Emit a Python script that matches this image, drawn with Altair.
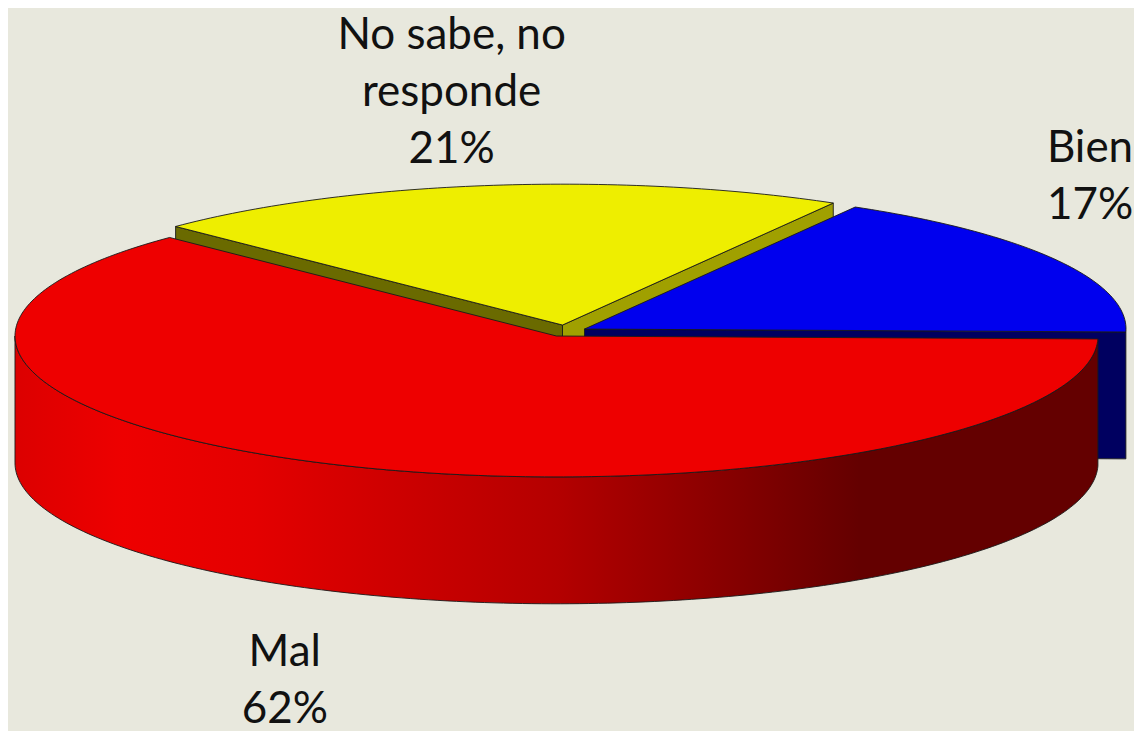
import math
import altair as alt
import pandas as pd

# Data
categories = ["Bien", "No sabe, no responde", "Mal"]
shares = [17, 21, 62]
label_lines = [["Bien", "17%"], ["No sabe, no", "responde", "21%"], ["Mal", "62%"]]
slice_colors = ["#0000ee", "#eeee00", "#ee0000"]
left_wall_colors = ["#000060", "#6a6a00", "#600000"]
right_wall_colors = ["#000060", "#a0a000", "#600000"]

# Projection of the 3D pie (picture pixels)
W, H = 1134, 731
RX, RY, DEPTH = 542, 141, 127
START = -1.2
APEX = {"Bien": (585, 329), "No sabe, no responde": (563, 325), "Mal": (557, 336)}
BG = "#e8e8dd"
EDGE = "#1a1a1a"
X_SCALE = alt.Scale(domain=[8, W], nice=False, zero=False)
Y_SCALE = alt.Scale(domain=[H, 8], nice=False, zero=False)

spans = {}
a = START
for c, s in zip(categories, shares):
    spans[c] = (a, a + s * 3.6)
    a += s * 3.6


def pt(c, t, down=0):
    cx, cy = APEX[c]
    r = math.radians(t)
    return cx + RX * math.cos(r), cy - RY * math.sin(r) + down


def arc(c, t0, t1, down=0, step=1.0):
    n = max(2, int(abs(t1 - t0) / step) + 1)
    return [pt(c, t0 + (t1 - t0) * i / (n - 1), down) for i in range(n)]


def poly(points, fill, width=0.9):
    pts = list(points) + [points[0]]
    df = pd.DataFrame({"x": [p[0] for p in pts], "y": [p[1] for p in pts], "i": range(len(pts))})
    return alt.Chart(df).mark_line(fill=fill, stroke=EDGE, strokeWidth=width, interpolate="linear", clip=True).encode(
        x=alt.X("x:Q", scale=X_SCALE, axis=None),
        y=alt.Y("y:Q", scale=Y_SCALE, axis=None),
        order=alt.Order("i:Q"),
    )


def top(c, fill):
    t0, t1 = spans[c]
    return poly([APEX[c]] + arc(c, t0, t1), fill)


def radial_wall(c, t, fill):
    ax, ay = APEX[c]
    ex, ey = pt(c, t)
    return poly([(ax, ay), (ex, ey), (ex, ey + DEPTH), (ax, ay + DEPTH)], fill)


def outer_wall(c, t0, t1, fill):
    return poly(arc(c, t0, t1) + arc(c, t1, t0, DEPTH), fill)


red_gradient = alt.Gradient(
    gradient="linear", x1=0, x2=1, y1=0, y2=0,
    stops=[
        alt.GradientStop(offset=0.0, color="#dc0000"),
        alt.GradientStop(offset=0.1, color="#ee0000"),
        alt.GradientStop(offset=0.22, color="#e40000"),
        alt.GradientStop(offset=0.5, color="#b40000"),
        alt.GradientStop(offset=0.78, color="#640000"),
        alt.GradientStop(offset=1.0, color="#640000"),
    ],
)

b, y, m = categories
layers = [
    radial_wall(y, spans[y][1], left_wall_colors[1]),
    radial_wall(y, spans[y][0], right_wall_colors[1]),
    top(y, slice_colors[1]),
    radial_wall(b, spans[b][0], right_wall_colors[0]),
    top(b, slice_colors[0]),
    outer_wall(m, 180, spans[m][1], red_gradient),
    top(m, slice_colors[2]),
]

# Labels
LINE_HEIGHT = 57
FONT = 44
label_anchor = {"Bien": (1091, 149), "No sabe, no responde": (452, 36), "Mal": (285, 653)}
rows = []
for c, lines in zip(categories, label_lines):
    lx, ly = label_anchor[c]
    for k, line in enumerate(lines):
        rows.append({"x": lx, "y": ly + k * LINE_HEIGHT, "text": line})
labels = alt.Chart(pd.DataFrame(rows)).mark_text(
    font="Lato", fontSize=FONT, color="#111111", align="center", baseline="middle"
).encode(
    x=alt.X("x:Q", scale=X_SCALE, axis=None),
    y=alt.Y("y:Q", scale=Y_SCALE, axis=None),
    text="text:N",
)

chart = alt.layer(*layers, labels).properties(
    width=W - 8, height=H - 8, background=BG, padding=0
).configure_view(stroke=None)

chart.save("out.html", embed_options={"renderer": "svg", "actions": False})
